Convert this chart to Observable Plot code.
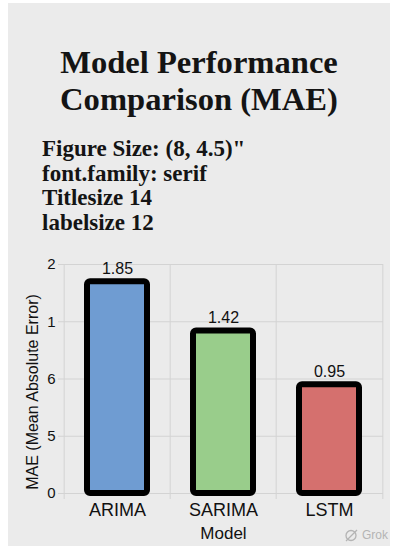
<!DOCTYPE html>
<html>
<head>
<meta charset="utf-8">
<script src="https://cdn.jsdelivr.net/npm/d3@7"></script>
<script src="https://cdn.jsdelivr.net/npm/@observablehq/plot@0.6"></script>
<style>
  html, body { margin: 0; padding: 0; background: #ffffff; }
  body { position: relative; width: 393px; height: 546px; overflow: hidden; }
  #panel { position: absolute; left: 8px; top: 3px; width: 382px; height: 543px; background: #ebebeb; }
  .title { position: absolute; left: 8px; width: 382px; text-align: center;
           font-family: "Liberation Serif", "Times New Roman", serif; font-weight: bold;
           font-size: 32.6px; line-height: 37px; color: #141414; white-space: nowrap; }
  .note { position: absolute; left: 42px; font-family: "Liberation Serif", "Times New Roman", serif;
          font-weight: bold; font-size: 23px; line-height: 24.7px; color: #141414; white-space: nowrap; }
  #chart { position: absolute; left: 8px; top: 240px; }
  #mark { position: absolute; left: 344px; top: 528px; display: flex; align-items: center; gap: 3px;
          font-family: "Liberation Sans", Arial, sans-serif; font-size: 12px; color: #b4b4b4; white-space: nowrap; }
</style>
</head>
<body>
<div id="panel"></div>
<div class="title" id="title"></div>
<div class="note" id="notes"></div>
<div id="chart"></div>
<div id="mark"><svg width="15" height="13" viewBox="0 0 15 13"><circle cx="7" cy="6.5" r="5" fill="none" stroke="#b4b4b4" stroke-width="1.3"/><line x1="2" y1="12" x2="13" y2="1" stroke="#b4b4b4" stroke-width="1.3"/></svg><span id="markText"></span></div>
<script>
// Chart content
const models = ["ARIMA", "SARIMA", "LSTM"];
const maeValues = [1.85, 1.42, 0.95];
const barColors = ["#6f9cd2", "#99cd8b", "#d5706e"];
const yTickValues = [0, 0.5, 1, 1.5, 2];
const yTickLabels = ["0", "5", "6", "1", "2"];
const titleLines = ["Model Performance", "Comparison (MAE)"];
const noteLines = ["Figure Size: (8, 4.5)\"", "font.family: serif", "Titlesize 14", "labelsize 12"];
const xLabel = "Model";
const yLabel = "MAE (Mean Absolute Error)";
const markText = "Grok";

// Title and notes above the plot
const titleEl = document.getElementById("title");
titleEl.style.top = "43.5px";
titleEl.innerHTML = titleLines.map(t => `<div>${t}</div>`).join("");
const notesEl = document.getElementById("notes");
notesEl.style.top = "137px";
notesEl.innerHTML = noteLines.map(t => `<div>${t.replace(/"/g, "&quot;")}</div>`).join("");
document.getElementById("markText").textContent = markText;

const rows = models.map((m, i) => ({model: m, mae: maeValues[i]}));

const W = 382, H = 306, mL = 55, mR = 7, mT = 24, mB = 53;
const step = (W - mL - mR) / models.length;   // width of one category slot
const gridColor = "#d3d3d3";
const sans = "'Liberation Sans', Arial, Helvetica, sans-serif";

const chart = Plot.plot({
  width: W, height: H,
  marginLeft: mL, marginRight: mR, marginTop: mT, marginBottom: mB,
  style: {background: "transparent", fontFamily: sans, color: "#111", overflow: "visible"},
  x: {domain: models, paddingInner: 0.4375, paddingOuter: 0.21875, label: null},
  y: {domain: [0, 2], label: null},
  color: {domain: models, range: barColors},
  marks: [
    // horizontal grid at each tick
    Plot.ruleY(yTickValues, {y: d => d, stroke: gridColor, strokeWidth: 1}),
    // vertical grid at the category boundaries
    Plot.ruleX(models, {x: d => d, dx: -step / 2, insetBottom: -6, stroke: gridColor, strokeWidth: 1}),
    Plot.ruleX(models.slice(-1), {x: d => d, dx: step / 2, insetBottom: -6, stroke: gridColor, strokeWidth: 1}),
    Plot.axisY({
      ticks: yTickValues,
      tickFormat: d => yTickLabels[yTickValues.indexOf(d)],
      tickSize: 5, tickPadding: 3, stroke: gridColor, fill: "#111",
      fontSize: 15, label: null
    }),
    Plot.axisX({tickSize: 0, tickPadding: 10, fontSize: 18, fill: "#111", label: null}),
    Plot.barY(rows, {x: "model", y: "mae", fill: "model", stroke: "#000", strokeWidth: 6, rx: 3}),
    Plot.text(rows, {x: "model", y: "mae", text: d => d.mae.toFixed(2), dy: -8, lineAnchor: "bottom", fontSize: 16, fill: "#111"}),
    Plot.text([yLabel], {frameAnchor: "left", textAnchor: "middle", rotate: -90, dx: -31, dy: 13, fontSize: 16, fill: "#111"}),
    Plot.text([xLabel], {frameAnchor: "bottom", dy: 45, fontSize: 17, fill: "#111"})
  ]
});
document.getElementById("chart").appendChild(chart);
</script>
</body>
</html>
